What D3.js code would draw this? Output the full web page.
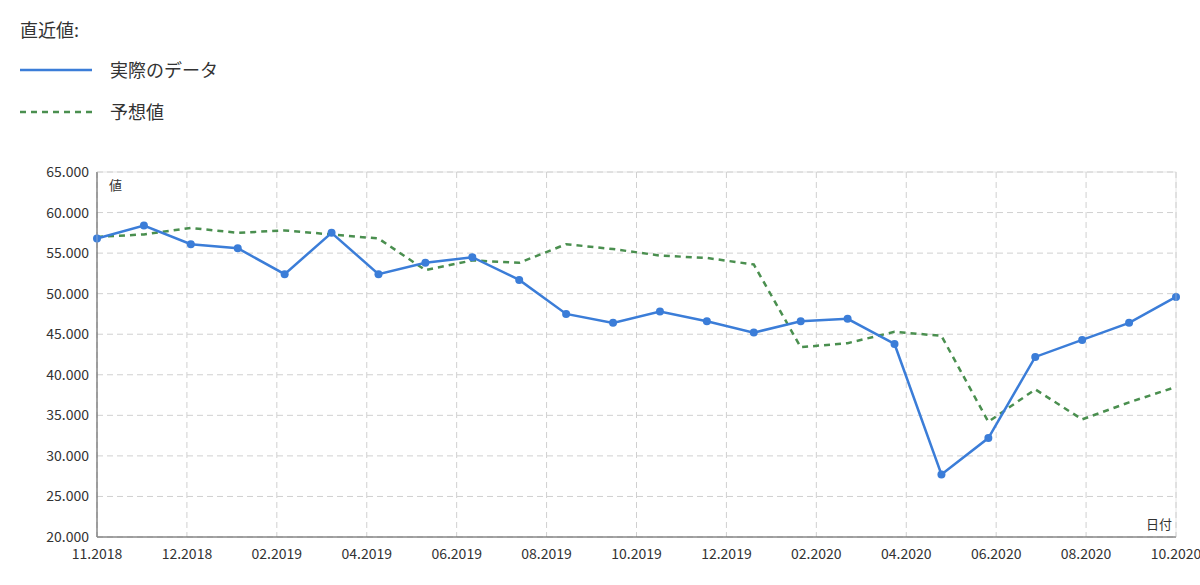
<!DOCTYPE html><html><head><meta charset="utf-8"><script src="https://cdn.jsdelivr.net/npm/d3@7"></script>
<style>body{margin:0;background:#fff;font-family:"Noto Sans CJK JP","Noto Sans",sans-serif}</style></head><body><svg width="1200" height="585"></svg>
<script>
const actual=[56.8,58.4,56.1,55.6,52.4,57.5,52.4,53.8,54.5,51.7,47.5,46.4,47.8,46.6,45.2,46.6,46.9,43.8,27.7,32.2,42.2,44.3,46.4,49.6];
const forecast=[57.0,57.3,58.1,57.5,57.8,57.3,56.8,52.9,54.1,53.8,56.1,55.5,54.7,54.4,53.6,43.4,43.9,45.3,44.8,34.2,38.2,34.5,36.6,38.5];
const xTickLabels=["11.2018","12.2018","02.2019","04.2019","06.2019","08.2019","10.2019","12.2019","02.2020","04.2020","06.2020","08.2020","10.2020"];
const yTicks=[20,25,30,35,40,45,50,55,60,65];
const svg=d3.select("svg");
const L=97,R=1176,T=172,B=537;
const x=d3.scaleLinear().domain([0,actual.length-1]).range([L,R]);
const xt=d3.scaleLinear().domain([0,xTickLabels.length-1]).range([L,R]);
const y=d3.scaleLinear().domain([20,65]).range([B,T]);
const g=svg.append("g");
yTicks.forEach(v=>{g.append("line").attr("x1",L).attr("x2",R).attr("y1",y(v)).attr("y2",y(v)).attr("stroke","#d0d0d0").attr("stroke-dasharray","6,4");
 g.append("text").attr("x",L-8).attr("y",y(v)+5).attr("text-anchor","end").attr("font-size",14).attr("fill","#333").text(v.toFixed(3));});
xTickLabels.forEach((t,i)=>{g.append("line").attr("x1",xt(i)).attr("x2",xt(i)).attr("y1",T).attr("y2",B).attr("stroke","#d0d0d0").attr("stroke-dasharray","6,4");
 g.append("text").attr("x",xt(i)).attr("y",B+22).attr("text-anchor","middle").attr("font-size",14).attr("fill","#333").text(t);});
g.append("line").attr("x1",L).attr("x2",L).attr("y1",T).attr("y2",B).attr("stroke","#333");
g.append("line").attr("x1",L).attr("x2",R).attr("y1",B).attr("y2",B).attr("stroke","#333");
g.append("text").attr("x",L+12).attr("y",T+18).attr("font-size",13).attr("fill","#333").text("値");
g.append("text").attr("x",R-4).attr("y",B-8).attr("text-anchor","end").attr("font-size",13).attr("fill","#333").text("日付");
const line=d3.line().x((d,i)=>x(i)).y(d=>y(d));
svg.append("path").attr("d",line(forecast)).attr("fill","none").attr("stroke","#4a8f4f").attr("stroke-width",2.5).attr("stroke-dasharray","6,5");
svg.append("path").attr("d",line(actual)).attr("fill","none").attr("stroke","#3b7dd8").attr("stroke-width",2.5);
svg.selectAll("circle").data(actual).join("circle").attr("cx",(d,i)=>x(i)).attr("cy",d=>y(d)).attr("r",4).attr("fill","#3b7dd8");
svg.append("rect").attr("x",L).attr("y",T).attr("width",R-L).attr("height",B-T).attr("fill","none").attr("stroke","#ccc").attr("stroke-width",0.5);
svg.append("text").attr("x",20).attr("y",37).attr("font-size",18).attr("fill","#333").text("直近値:");
svg.append("line").attr("x1",20).attr("x2",92).attr("y1",70).attr("y2",70).attr("stroke","#3b7dd8").attr("stroke-width",2.5);
svg.append("text").attr("x",110).attr("y",77).attr("font-size",18).attr("fill","#333").text("実際のデータ");
svg.append("line").attr("x1",20).attr("x2",92).attr("y1",112).attr("y2",112).attr("stroke","#4a8f4f").attr("stroke-width",2.5).attr("stroke-dasharray","6,5");
svg.append("text").attr("x",110).attr("y",119).attr("font-size",18).attr("fill","#333").text("予想値");
</script></body></html>
